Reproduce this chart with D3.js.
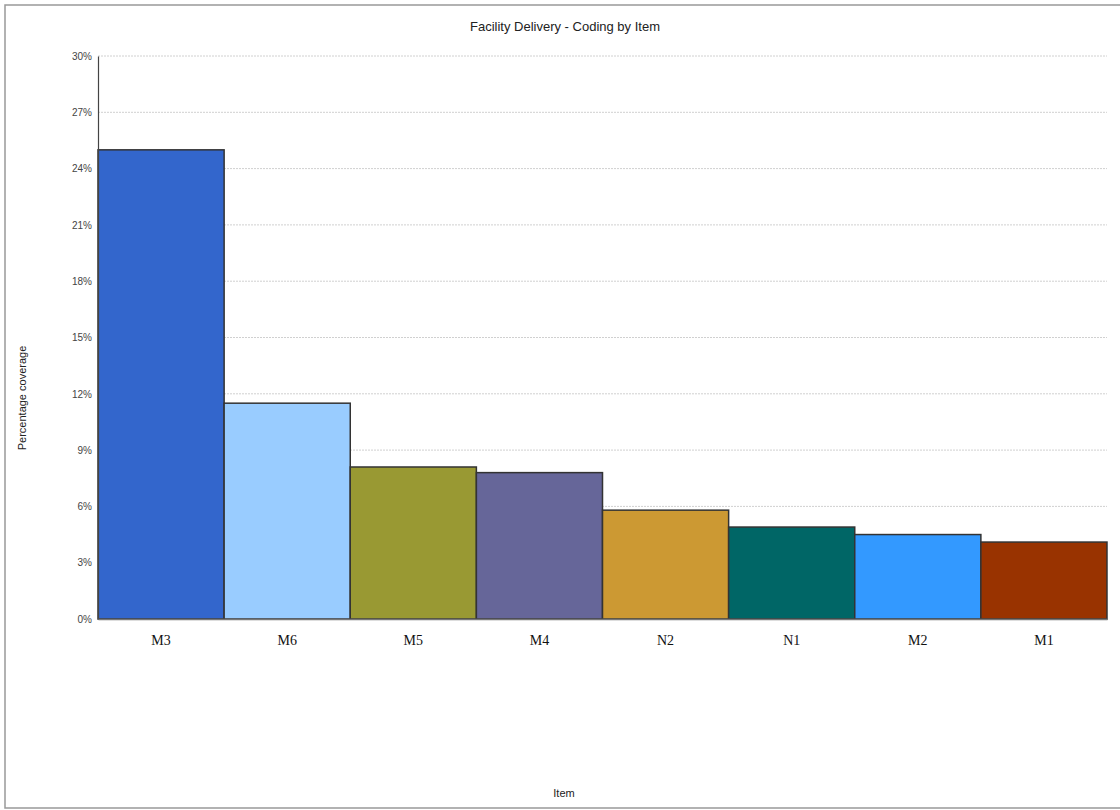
<!DOCTYPE html>
<html><head><meta charset="utf-8">
<script src="https://cdn.jsdelivr.net/npm/d3@7"></script>
<style>body{margin:0;background:#fff;}svg{display:block;}</style>
</head><body><svg id="c" width="1120" height="810"></svg>
<script>
const categories = ["M3","M6","M5","M4","N2","N1","M2","M1"];
const values = [25.0, 11.5, 8.1, 7.8, 5.8, 4.9, 4.5, 4.1];
const colors = ["#3366CC","#99CCFF","#999933","#666699","#CC9933","#006666","#3399FF","#993300"];
const yTicks = [0,3,6,9,12,15,18,21,24,27,30];
const title = "Facility Delivery - Coding by Item";
const xTitle = "Item";
const yTitle = "Percentage coverage";

const svg = d3.select("#c");
svg.append("rect").attr("x",5).attr("y",5).attr("width",1125).attr("height",803)
  .attr("fill","#fff").attr("stroke","#999").attr("stroke-width",1.5);

const pLeft=98, pRight=1107, pTop=56, pBottom=619;
const x = d3.scaleBand().domain(categories).range([pLeft,pRight]).padding(0);
const y = d3.scaleLinear().domain([0,30]).range([pBottom,pTop]);

// gridlines
svg.append("g").selectAll("line").data(yTicks.filter(d=>d>0)).join("line")
  .attr("x1",pLeft).attr("x2",pRight).attr("y1",d=>y(d)).attr("y2",d=>y(d))
  .attr("stroke","#d0d0d0").attr("stroke-width",1).attr("stroke-dasharray","2,1");

// bars
svg.append("g").selectAll("rect").data(categories).join("rect")
  .attr("x",d=>x(d)).attr("width",x.bandwidth())
  .attr("y",(d,i)=>y(values[i])).attr("height",(d,i)=>y(0)-y(values[i]))
  .attr("fill",(d,i)=>colors[i]).attr("stroke","#333").attr("stroke-width",1.5);

// y axis
const yAxis = d3.axisLeft(y).tickValues(yTicks).tickFormat(d=>d+"%").tickSize(0).tickPadding(6);
const gy = svg.append("g").attr("transform",`translate(${pLeft},0)`).call(yAxis);
gy.select(".domain").attr("stroke","#444").attr("stroke-width",1.2);
gy.selectAll("text").attr("font-family","Liberation Sans, Arial, sans-serif").attr("font-size",10).attr("fill","#444");

// x axis
const xAxis = d3.axisBottom(x).tickSize(0).tickPadding(16);
const gx = svg.append("g").attr("transform",`translate(0,${pBottom})`).call(xAxis);
gx.select(".domain").attr("stroke","#777").attr("stroke-width",1.5);
gx.selectAll("text").attr("font-family","Liberation Serif, Times New Roman, serif").attr("font-size",14).attr("fill","#111");

// titles
svg.append("text").attr("x",565).attr("y",31).attr("text-anchor","middle")
  .attr("font-family","Liberation Sans, Arial, sans-serif").attr("font-size",13).attr("fill","#222").text(title);
svg.append("text").attr("x",564).attr("y",797).attr("text-anchor","middle")
  .attr("font-family","Liberation Sans, Arial, sans-serif").attr("font-size",11).attr("fill","#222").text(xTitle);
svg.append("text").attr("transform","translate(26,398) rotate(-90)").attr("text-anchor","middle")
  .attr("font-family","Liberation Sans, Arial, sans-serif").attr("font-size",11).attr("fill","#222").text(yTitle);
</script></body></html>
